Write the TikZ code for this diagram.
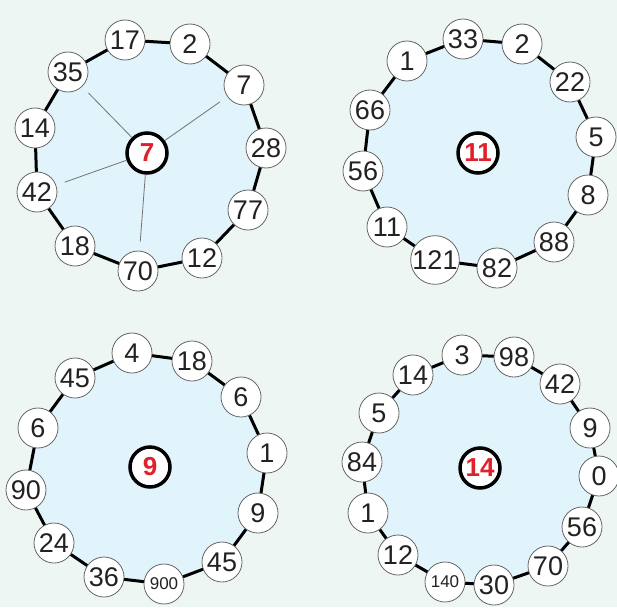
\documentclass[tikz,border=0pt]{standalone}
\usepackage{fontspec}
\setmainfont{Liberation Sans}
\pgfdeclarelayer{bglayer}
\pgfdeclarelayer{background}
\pgfsetlayers{bglayer,background,main}
\definecolor{bgcol}{HTML}{EEF6F3}
\definecolor{ringfill}{HTML}{E1F3FB}
\definecolor{numred}{HTML}{E0202A}
\definecolor{txt}{HTML}{222222}
\tikzset{
  num/.style={circle,draw=black!60,line width=0.8pt,fill=white,minimum size=40pt,inner sep=0pt,text=txt,font=\fontsize{27}{27}\selectfont},
  smallnum/.style={num,font=\fontsize{17}{17}\selectfont},
  hub/.style={circle,draw=black,line width=3.5pt,fill=white,minimum size=40pt,inner sep=0pt,text=numred,font=\fontsize{26}{26}\selectfont\bfseries},
  ring/.style={draw=black,line width=3pt,fill=ringfill,line join=round},
  spoke/.style={draw=black!55,line width=0.8pt,shorten >=9pt}
}
\begin{document}
\begin{tikzpicture}[x=1pt,y=-1pt]
\useasboundingbox (0,0) rectangle (617,607);
\begin{pgfonlayer}{bglayer}
\fill[bgcol] (0,0) rectangle (617,607);
\end{pgfonlayer}
% quadrant 1
\foreach \n/\x/\y/\t in {1/125/40/17,2/190/44/2,3/244/85/7,4/266/148/28,5/248/210/77,6/202/258/12,7/138/271/70,8/75/246/18,9/37/192/42,10/35/128/14,11/68/72/35}
  \node[num] (a\n) at (\x,\y) {\t};
\node[hub] (ha) at (147,153) {7};
\begin{pgfonlayer}{background}
\draw[ring] (a1.center) \foreach \i in {2,...,11} {-- (a\i.center)} -- cycle;
\end{pgfonlayer}
\foreach \i in {11,3,9,7} \draw[spoke] (ha) -- (a\i);
% quadrant 2
\foreach \n/\x/\y/\t in {1/463/39/33,2/522/44/2,3/570/82/22,4/596/137/5,5/588/195/8,6/554/242/88,7/497/268/82,8/435/260/121,9/387/227/11,10/363/171/56,11/370/110/66,12/407/61/1}
  \node[num] (b\n) at (\x,\y) {\t};
\node[hub] (hb) at (478,153) {11};
\begin{pgfonlayer}{background}
\draw[ring] (b1.center) \foreach \i in {2,...,12} {-- (b\i.center)} -- cycle;
\end{pgfonlayer}
% quadrant 3
\foreach \n/\x/\y/\t in {1/132/353/4,2/192/361/18,3/241/397/6,4/267/453/1,5/258/513/9,6/222/562/45,8/104/577/36,9/54/543/24,10/26/490/90,11/38/428/6,12/75/378/45}
  \node[num] (c\n) at (\x,\y) {\t};
\node[smallnum] (c7) at (164,584) {900};
\node[hub] (hc) at (150,467) {9};
\begin{pgfonlayer}{background}
\draw[ring] (c1.center) \foreach \i in {2,...,12} {-- (c\i.center)} -- cycle;
\end{pgfonlayer}
% quadrant 4
\foreach \n/\x/\y/\t in {1/462/355/3,2/514/357/98,3/560/384/42,4/590/428/9,5/599/476/0,6/582/527/56,7/548/566/70,8/494/585/30,10/398/555/12,11/368/513/1,12/362/462/84,13/379/413/5,14/413/375/14}
  \node[num] (d\n) at (\x,\y) {\t};
\node[smallnum] (d9) at (445,582) {140};
\node[hub] (hd) at (480,468) {14};
\begin{pgfonlayer}{background}
\draw[ring] (d1.center) \foreach \i in {2,...,14} {-- (d\i.center)} -- cycle;
\end{pgfonlayer}
\end{tikzpicture}
\end{document}
